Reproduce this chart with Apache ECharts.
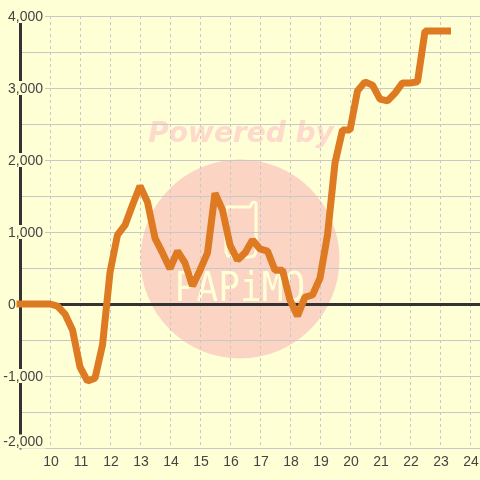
<!DOCTYPE html>
<html>
<head>
<meta charset="utf-8">
<style>html,body{margin:0;padding:0;background:#ffffd6}#c{width:480px;height:480px}</style>
<script src="https://cdn.jsdelivr.net/npm/echarts@6/dist/echarts.min.js"></script>
</head>
<body>
<div id="c"></div>
<script>
const hours = [9,10,10.25,10.5,10.75,11,11.25,11.5,11.75,12,12.25,12.5,12.75,13,13.25,13.5,13.75,14,14.25,14.5,14.75,15,15.25,15.5,15.75,16,16.25,16.5,16.75,17,17.25,17.5,17.75,18,18.25,18.5,18.75,19,19.25,19.5,19.75,20,20.25,20.5,20.75,21,21.25,21.5,21.75,22,22.25,22.5,22.75,23,23.25];
const values = [0,0,-30,-140,-360,-875,-1070,-1030,-570,440,960,1095,1375,1640,1415,915,710,490,735,570,250,470,710,1540,1305,820,610,710,890,765,735,470,470,55,-165,95,125,360,960,1960,2415,2415,2960,3085,3040,2845,2820,2930,3070,3070,3085,3790,3790,3790,3790];
const xTicks = [10,11,12,13,14,15,16,17,18,19,20,21,22,23,24];
const yTicks = {'4000':'4,000','3000':'3,000','2000':'2,000','1000':'1,000','0':'0','-1000':'-1,000','-2000':'-2,000'};
const bg = '#ffffd6', ink = '#444444', dark = '#333333', gridCol = '#c8c8c8', lineCol = '#dd7a22';
const font = '"Liberation Sans", Arial, sans-serif';

const chart = echarts.init(document.getElementById('c'), null, {renderer:'canvas'});
chart.setOption({
  animation:false,
  backgroundColor:bg,
  grid:{left:20,top:16,right:0,bottom:32,containLabel:false,outerBoundsMode:'none'},
  graphic:[
    {type:'circle',z:-5,silent:true,shape:{cx:240,cy:259,r:99.5},style:{fill:'#fcd4c4'}},
    {type:'text',z:-4,silent:true,x:241,y:135,style:{text:'Powered by',fill:'#fddacc',font:'italic bold 28px "DejaVu Sans"',textAlign:'center',textVerticalAlign:'middle'}},
    {type:'text',z:-4,silent:true,x:240,y:290,originX:0,originY:0,scaleX:0.88,style:{text:'PAPiMO',fill:bg,font:'41px "DejaVu Sans Mono"',textAlign:'center',textVerticalAlign:'middle'}},
    {type:'polyline',z:-4,silent:true,shape:{points:[[226,207],[250,207],[252,203],[254,202],[256,203],[256,252],[254,256],[250,257],[232,257],[228,256],[226,252],[226,207]]},style:{fill:null,stroke:bg,lineWidth:3,lineJoin:'round'}}
  ],
  xAxis:[
    {type:'value',min:9,max:24.3333,interval:1,position:'bottom',
     axisLine:{show:false,onZero:false},axisTick:{show:false},
     axisLabel:{color:ink,fontFamily:font,fontSize:14,margin:7,padding:[0,0,0,2],showMinLabel:false,showMaxLabel:false,
       formatter:v=>xTicks.includes(v)?String(v):''},
     splitLine:{show:true,showMinLine:false,showMaxLine:false,lineStyle:{color:gridCol,type:[3,3],width:1}}},
    {type:'value',min:9,max:24.3333,interval:1,position:'bottom',
     axisLine:{show:true,onZero:true,lineStyle:{color:dark,width:3}},axisTick:{show:false},axisLabel:{show:false},splitLine:{show:false}}
  ],
  yAxis:{type:'value',min:-2000,max:4000,interval:1000,position:'left',
    axisLine:{show:true,onZero:false,lineStyle:{color:dark,width:3}},axisTick:{show:false},
    minorTick:{show:false,splitNumber:2},
    minorSplitLine:{show:true,lineStyle:{color:gridCol,width:1}},
    splitLine:{show:true,lineStyle:{color:gridCol,width:1}},
    axisLabel:{inside:true,margin:25,align:'right',verticalAlignMinLabel:'bottom',color:ink,fontFamily:font,fontSize:14,
      formatter:v=>v===0?'{z|0}':'{b|'+yTicks[String(v)]+'}',
      rich:{
        b:{backgroundColor:bg,width:43,height:12,lineHeight:13,align:'right',padding:[2,2,0,0],color:ink,fontFamily:font,fontSize:14},
        z:{width:37,height:12,lineHeight:13,align:'left',padding:[2,0,0,8],color:ink,fontFamily:font,fontSize:14}
      }}},
  series:[{type:'line',data:hours.map((h,i)=>[h,values[i]]),xAxisIndex:0,yAxisIndex:0,symbol:'none',clip:false,smooth:false,
    lineStyle:{color:lineCol,width:7,cap:'square',join:'bevel'},z:5}]
});
</script>
</body>
</html>
